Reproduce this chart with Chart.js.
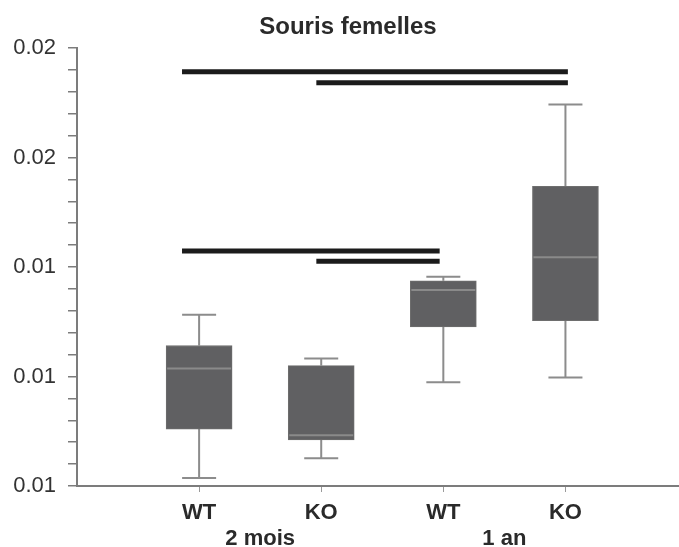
<!DOCTYPE html>
<html>
<head>
<meta charset="utf-8">
<script src="https://cdn.jsdelivr.net/npm/chart.js@4/dist/chart.umd.min.js"></script>
<style>
  body { margin: 0; background: #fff; }
  #wrap { width: 679px; height: 547px; }
</style>
</head>
<body>
<div id="wrap"><canvas id="chart"></canvas></div>
<script>
const categories = ["WT", "KO", "WT", "KO"];
const groups = ["2 mois", "1 an"];
const xPos = [1, 2, 3, 4];

// box plot values
const whiskerLow = [0.00622, 0.00676, 0.00884, 0.00897];
const q1 = [0.00756, 0.00726, 0.01036, 0.01053];
const median = [0.00922, 0.00739, 0.01137, 0.01227];
const q3 = [0.00985, 0.00930, 0.01162, 0.01421];
const whiskerHigh = [0.01069, 0.00949, 0.01173, 0.01645];

// significance bars
const sigFrom = [0.86, 1.96, 0.86, 1.96];
const sigTo = [4.02, 4.02, 2.97, 2.97];
const sigLevel = [0.01735, 0.01705, 0.01244, 0.01216];

const yTickValues = [0.006, 0.009, 0.012, 0.015, 0.018];
const yTickLabels = ["0.01", "0.01", "0.01", "0.02", "0.02"];

const FONT = "'Liberation Sans', Arial, sans-serif";

const boxExtras = {
  id: "boxExtras",
  beforeDatasetsDraw(chart) {
    const { ctx, scales: { x, y } } = chart;
    ctx.save();
    ctx.strokeStyle = "#8c8c8c";
    ctx.lineWidth = 2;
    xPos.forEach((pos, i) => {
      const px = x.getPixelForValue(pos);
      const half = 17;
      ctx.beginPath();
      ctx.moveTo(px, y.getPixelForValue(whiskerLow[i]));
      ctx.lineTo(px, y.getPixelForValue(q1[i]));
      ctx.moveTo(px, y.getPixelForValue(q3[i]));
      ctx.lineTo(px, y.getPixelForValue(whiskerHigh[i]));
      ctx.moveTo(px - half, y.getPixelForValue(whiskerLow[i]));
      ctx.lineTo(px + half, y.getPixelForValue(whiskerLow[i]));
      ctx.moveTo(px - half, y.getPixelForValue(whiskerHigh[i]));
      ctx.lineTo(px + half, y.getPixelForValue(whiskerHigh[i]));
      ctx.stroke();
    });
    ctx.restore();
  },
  afterDatasetsDraw(chart) {
    const { ctx, scales: { x, y } } = chart;
    const bar = chart.getDatasetMeta(0).data;
    ctx.save();
    ctx.strokeStyle = "#8a8a8a";
    ctx.lineWidth = 2;
    xPos.forEach((pos, i) => {
      const w = bar[i].width / 2 - 1;
      const px = x.getPixelForValue(pos);
      const py = y.getPixelForValue(median[i]);
      ctx.beginPath();
      ctx.moveTo(px - w, py);
      ctx.lineTo(px + w, py);
      ctx.stroke();
    });
    ctx.restore();
  },
  afterDraw(chart) {
    const { ctx, scales: { x } } = chart;
    ctx.save();
    ctx.fillStyle = "#2a2a2a";
    ctx.textAlign = "center";
    ctx.textBaseline = "alphabetic";
    ctx.font = "bold 24px " + FONT;
    ctx.fillText("Souris femelles", 348, 34);
    ctx.font = "bold 22px " + FONT;
    ctx.fillText(groups[0], x.getPixelForValue((xPos[0] + xPos[1]) / 2), 545);
    ctx.fillText(groups[1], x.getPixelForValue((xPos[2] + xPos[3]) / 2), 545);
    ctx.restore();
  }
};

const sigDatasets = sigLevel.map((lvl, i) => ({
  type: "line",
  data: [{ x: sigFrom[i], y: lvl }, { x: sigTo[i], y: lvl }],
  borderColor: "#1b1b1b",
  borderWidth: 5,
  borderCapStyle: "butt",
  pointRadius: 0,
  fill: false
}));

new Chart(document.getElementById("chart"), {
  type: "bar",
  data: {
    datasets: [
      {
        data: xPos.map((p, i) => ({ x: p, y: [q1[i], q3[i]] })),
        backgroundColor: "#606062",
        borderColor: "#6e6e6e",
        borderWidth: 1,
        borderSkipped: false,
        barThickness: 66
      },
      ...sigDatasets
    ]
  },
  options: {
    responsive: true,
    maintainAspectRatio: false,
    animation: false,
    layout: { padding: { top: 48, left: 0, right: 0, bottom: 0 } },
    plugins: { legend: { display: false }, tooltip: { enabled: false } },
    scales: {
      x: {
        type: "linear",
        offset: false,
        min: 0,
        max: 4.93,
        afterBuildTicks: (s) => { s.ticks = xPos.map(v => ({ value: v })); },
        afterFit: (s) => { s.height = 61; },
        border: { color: "#7c7c7c", width: 2 },
        grid: { offset: false, drawOnChartArea: false, tickLength: 6, color: "#9a9a9a" },
        ticks: {
          autoSkip: false,
          maxRotation: 0,
          padding: 8,
          color: "#2a2a2a",
          font: { family: FONT, size: 22, weight: "bold" },
          callback: (v, i) => categories[i]
        }
      },
      y: {
        min: yTickValues[0],
        max: yTickValues[yTickValues.length - 1],
        afterBuildTicks: (s) => {
          const t = [];
          for (let i = 0; i < yTickValues.length - 1; i++) {
            const step = (yTickValues[i + 1] - yTickValues[i]) / 5;
            for (let k = 0; k < 5; k++) t.push({ value: yTickValues[i] + k * step });
          }
          t.push({ value: yTickValues[yTickValues.length - 1] });
          s.ticks = t;
        },
        afterFit: (s) => { s.width = 77; },
        border: { color: "#7c7c7c", width: 2 },
        grid: { drawOnChartArea: false, tickLength: 9, color: "#7c7c7c", lineWidth: 1.5 },
        ticks: {
          autoSkip: false,
          padding: 12,
          color: "#333",
          font: { family: FONT, size: 22 },
          callback: (v, i) => (i % 5 === 0 ? yTickLabels[i / 5] : "")
        }
      }
    }
  },
  plugins: [boxExtras]
});
</script>
</body>
</html>
